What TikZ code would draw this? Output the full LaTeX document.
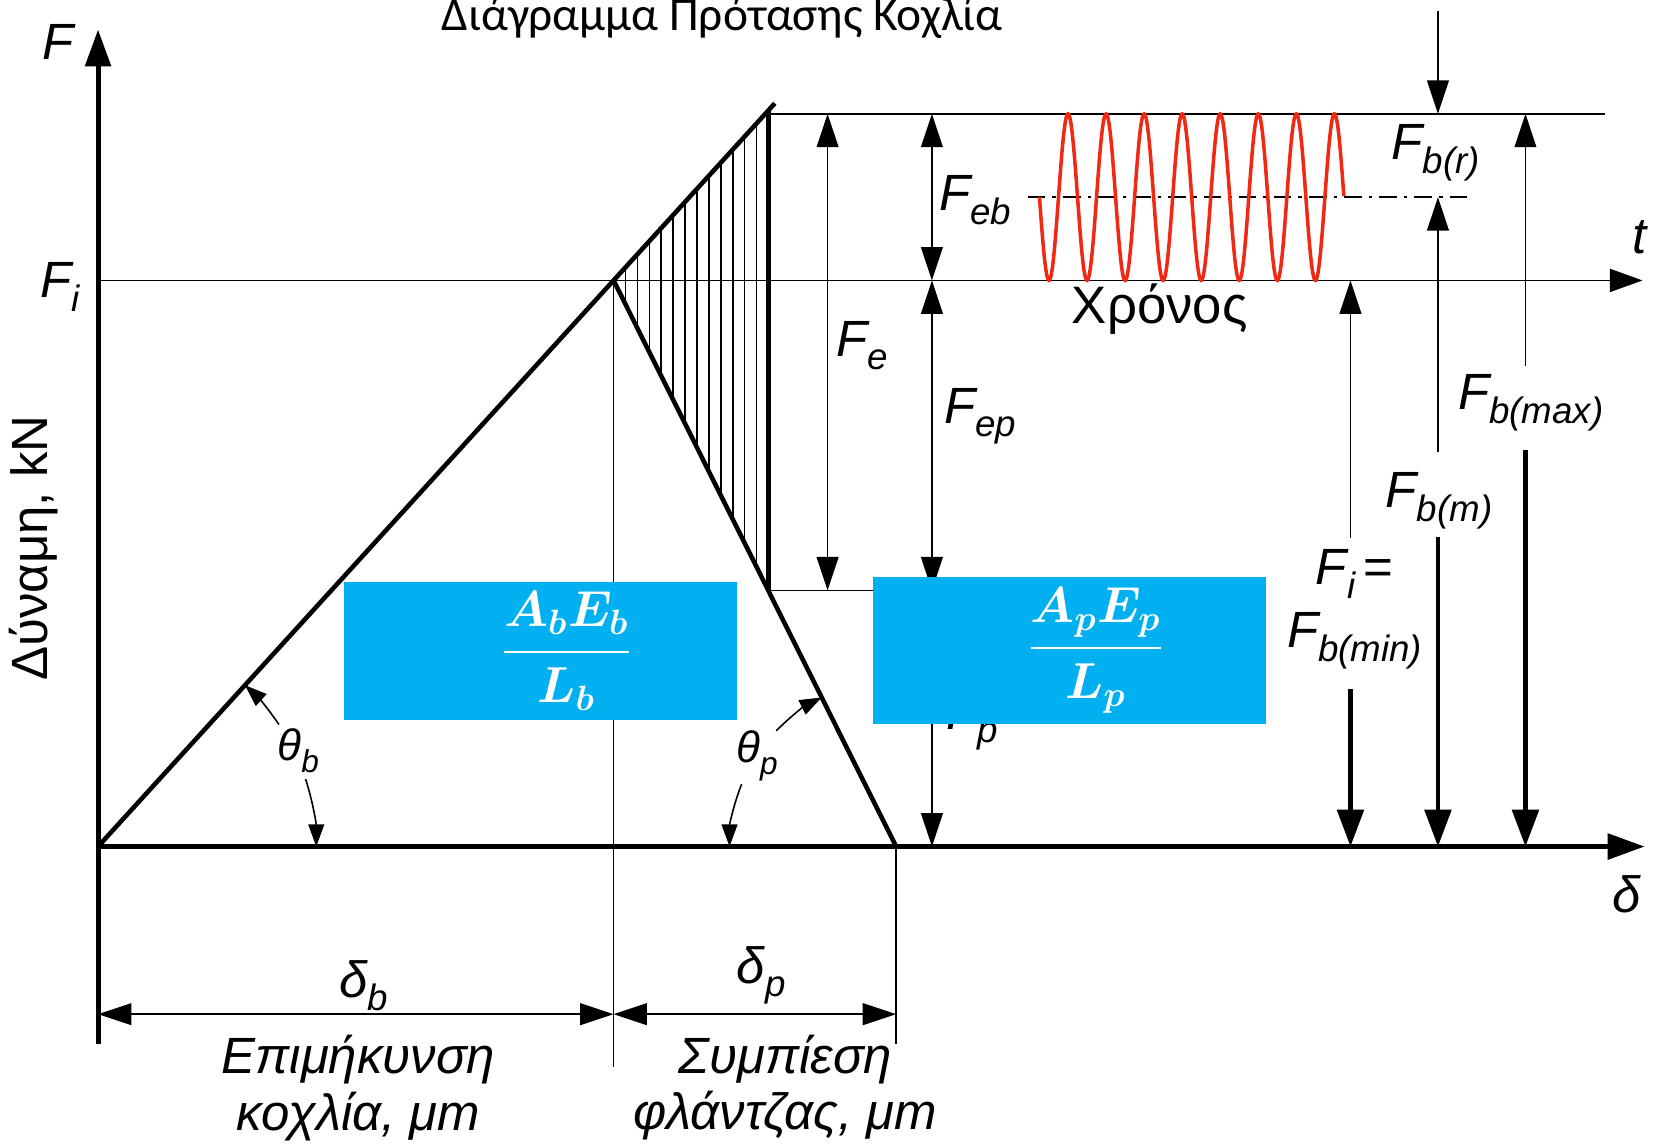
\documentclass[tikz,border=0pt]{standalone}
\usepackage{amsmath,amssymb,bm}
\usepackage{graphicx}
\usepackage{fontspec}
\setmainfont{Liberation Sans}
\newfontfamily\titlefont{Carlito}
\usepackage{tikz}
\usetikzlibrary{calc}
\usetikzlibrary{arrows.meta}

\definecolor{boxblue}{RGB}{0,176,240}
\definecolor{wavered}{RGB}{240,40,20}

\newcommand{\fsub}[2]{\textit{#1}\raisebox{-0.5ex}{\scalebox{0.72}{\textit{#2}}}}

\begin{document}
\begin{tikzpicture}[x=0.010542cm, y=-0.010542cm,
        thinline/.style={line width=0.45pt},
        thickline/.style={line width=1.3pt},
        axisline/.style={line width=1.4pt, -{Triangle[length=10.5pt,width=7.2pt]}},
        dimline/.style={line width=0.45pt, {Triangle[length=9.5pt,width=6.2pt]}-{Triangle[length=9.5pt,width=6.2pt]}},
        pointer/.style={line width=0.45pt, -{Triangle[length=9.5pt,width=6.2pt]}},
        angline/.style={line width=0.45pt, -{Triangle[length=6.3pt,width=4.5pt]}},
        loadline/.style={line width=1.3pt, -{Triangle[length=10.5pt,width=7.5pt]}},
        lbl/.style={font=\fontsize{14.5}{18}\selectfont\itshape, inner sep=1pt},
        coeff/.style={fill=boxblue, text=white, minimum width=3.93cm, inner sep=0pt, font=\fontsize{14.5}{16}\selectfont}]
        \useasboundingbox (0,0) rectangle (1568,1087);

        % Define points
        \coordinate (O) at (93,803);
        \coordinate (Fax) at (93,28);
        \coordinate (Fbase) at (93,990);
        \coordinate (dax) at (1560,803);
        \coordinate (Fi) at (93,266);
        \coordinate (tax) at (1558,266);
        \coordinate (P) at (582,266);
        \coordinate (Q) at (735,98);
        \coordinate (D) at (729,105);
        \coordinate (R) at (729,108);
        \coordinate (S) at (729,560);
        \coordinate (M) at (850,803);
        \coordinate (Ptail) at (582,1012);
        \coordinate (Mtail) at (850,990);
        \coordinate (topR) at (1522,108);
        \coordinate (Send) at (884,560);
        \coordinate (mid1) at (975,187);
        \coordinate (mid2) at (1393,187);

        % Axes and reference lines
        \draw[axisline] (Fbase) -- (Fax);
        \draw[axisline] (O) -- (dax);
        \draw[thinline, -{Triangle[length=9.3pt,width=6.6pt]}] (Fi) -- (tax);
        \draw[thinline] (R) -- (topR);
        \draw[thinline] (S) -- (Send);
        \draw[thinline] (P) -- (Ptail);
        \draw[thinline] (M) -- (Mtail);

        % Hatching
        \foreach \k in {1,...,12}
            \draw[thinline] ($(P)!\k/13!(D)$) -- ($(P)!\k/13!(S)$);

        % Bolt and member lines
        \draw[thickline] (O) -- (Q);
        \draw[thickline] (P) -- (M);
        \draw[thickline] (D) -- (S);

        % Angles
        \draw[angline] ($(O)+(-34:207)$) arc[start angle=-34, end angle=-47.7, radius=207];
        \draw[angline] ($(O)+(-18:207)$) arc[start angle=-18, end angle=0, radius=207];
        \draw[angline] ($(M)+(-136:158)$) arc[start angle=-136, end angle=-116.5, radius=158];
        \draw[angline] ($(M)+(-158:158)$) arc[start angle=-158, end angle=-180, radius=158];

        % Dimensions
        \coordinate (db1) at (93,962);
        \coordinate (db2) at (582,962);
        \coordinate (dp2) at (850,962);
        \draw[dimline] (db1) -- (db2);
        \draw[dimline] (db2) -- (dp2);
        \coordinate (e1) at (785,108);
        \coordinate (e2) at (785,560);
        \coordinate (eb1) at (884,108);
        \coordinate (eb2) at (884,266);
        \coordinate (ep2) at (884,560);
        \coordinate (p2) at (884,803);
        \draw[dimline] (e1) -- (e2);
        \draw[dimline] (eb1) -- (eb2);
        \draw[dimline] (eb2) -- (ep2);
        \draw[dimline] (ep2) -- (p2);

        % Load history
        \draw[line width=0.4pt, dash pattern=on 5pt off 2pt on 1pt off 2pt] (mid1) -- (mid2);
        \draw[wavered, line width=1pt] plot[domain=0:8, samples=481] ({986+36.1*\x},{187+79*sin(360*\x)});

        % Bolt load arrows
        \coordinate (rtop) at (1364,10);
        \coordinate (rtip) at (1364,108);
        \draw[pointer] (rtop) -- (rtip);
        \coordinate (min1) at (1281,510);
        \coordinate (min2) at (1281,266);
        \coordinate (min3) at (1281,654);
        \coordinate (min4) at (1281,803);
        \draw[pointer] (min1) -- (min2);
        \draw[loadline] (min3) -- (min4);
        \coordinate (m1) at (1364,429);
        \coordinate (m2) at (1364,187);
        \coordinate (m3) at (1364,509);
        \coordinate (m4) at (1364,803);
        \draw[pointer] (m1) -- (m2);
        \draw[loadline] (m3) -- (m4);
        \coordinate (max1) at (1447,347);
        \coordinate (max2) at (1447,108);
        \coordinate (max3) at (1447,427);
        \coordinate (max4) at (1447,803);
        \draw[pointer] (max1) -- (max2);
        \draw[loadline] (max3) -- (max4);

        % Labels
        \node[font=\titlefont\fontsize{13.5}{16}\selectfont] (title) at (685,17) {Διάγραμμα Πρότασης Κοχλία};
        \node[rotate=90, font=\fontsize{14.5}{18}\selectfont] (lforce) at (32,520) {Δύναμη, kN};
        \node[font=\fontsize{15}{18}\selectfont] (ltime) at (1100,293) {Χρόνος};
        \node[lbl] (lF) at (55,40) {F};
        \node[lbl] (lFi) at (57,272) {\fsub{F}{i}};
        \node[lbl] (ldelta) at (1543,848) {δ};
        \node[lbl] (lt) at (1555,225) {t};
        \node[lbl] (lFe) at (818,328) {\fsub{F}{e}};
        \node[lbl] (lFeb) at (925,190) {\fsub{F}{eb}};
        \node[lbl] (lFep) at (930,395) {\fsub{F}{ep}};
        \node[lbl] (lFp) at (922,685) {\fsub{F}{p}};
        \node[lbl] (lFbr) at (1362,145) {\fsub{F}{b(r)}};
        \node[lbl] (lFbmax) at (1452,382) {\fsub{F}{b(max)}};
        \node[lbl] (lFbm) at (1365,475) {\fsub{F}{b(m)}};
        \node[lbl, align=center] (lFbmin) at (1285,578) {\fsub{F}{i}\,\textup{=}\\\fsub{F}{b(min)}};
        \node[lbl, font=\fontsize{12.5}{14}\selectfont\itshape] (ltb) at (283,712) {\fsub{θ}{b}};
        \node[lbl, font=\fontsize{12.5}{14}\selectfont\itshape] (ltp) at (718,717) {\fsub{θ}{p}};
        \node[lbl] (ldb) at (345,935) {\fsub{δ}{b}};
        \node[lbl] (ldp) at (722,925) {\fsub{δ}{p}};
        \node[lbl, align=center, font=\fontsize{14.5}{16}\selectfont\itshape] (lelong) at (340,1032) {Επιμήκυνση\\κοχλία, μm};
        \node[lbl, align=center, font=\fontsize{14.5}{16}\selectfont\itshape] (lcomp) at (745,1032) {Συμπίεση\\φλάντζας, μm};

        % Stiffness boxes
        \node[coeff, minimum height=1.381cm] (boxB) at (512.5,617.5) {\hspace*{15pt}$\bm{\dfrac{A_bE_b}{L_b}}$};
        \node[coeff, minimum height=1.476cm] (boxP) at (1014.5,617) {\hspace*{15pt}$\bm{\dfrac{A_pE_p}{L_p}}$};
    \end{tikzpicture}
\end{document}
